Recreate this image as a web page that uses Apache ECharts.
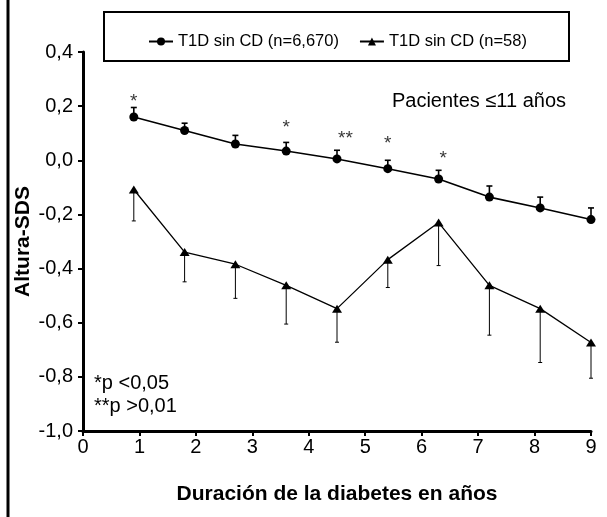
<!DOCTYPE html>
<html lang="es">
<head>
    <meta charset="UTF-8">
    <title>Altura-SDS</title>
    <script src="https://cdn.jsdelivr.net/npm/echarts@6/dist/echarts.min.js"></script>
    <style>
        html, body { margin: 0; padding: 0; background: #fff; }
        #chart { width: 607px; height: 517px; }
    </style>
</head>
<body>
<div id="chart"></div>
<script>
    // duración (años) - mismas posiciones para las dos series
    var years = [0.9, 1.8, 2.7, 3.6, 4.5, 5.4, 6.3, 7.2, 8.1, 9.0];

    // T1D sin CD (n=6,670)
    var grupoA = [0.160, 0.110, 0.060, 0.034, 0.005, -0.031, -0.069, -0.136, -0.176, -0.219];
    var grupoAsup = [0.195, 0.137, 0.092, 0.066, 0.037, 0.000, -0.037, -0.095, -0.136, -0.176];

    // T1D sin CD (n=58)
    var grupoB = [-0.108, -0.339, -0.384, -0.462, -0.548, -0.367, -0.230, -0.462, -0.548, -0.673];
    var grupoBinf = [-0.224, -0.449, -0.510, -0.605, -0.672, -0.470, -0.389, -0.646, -0.747, -0.805];

    // asteriscos de significación
    var sigX = [0.9, 3.6, 4.65, 5.4, 6.38];
    var sigY = [0.218, 0.120, 0.079, 0.061, 0.006];
    var sigTxt = ['*', '*', '**', '*', '*'];

    var nombres = ['T1D sin CD (n=6,670)', 'T1D sin CD (n=58)'];

    var fuente = "'Liberation Sans', Arial, sans-serif";

    function pares(xs, ys) {
        return xs.map(function (x, i) { return [x, ys[i]]; });
    }

    function barras(xs, ys, lim) {
        return xs.map(function (x, i) { return [x, ys[i], lim[i]]; });
    }

    function dibujaBarra(capW, lw) {
        return function (params, api) {
            var p0 = api.coord([api.value(0), api.value(1)]);
            var p1 = api.coord([api.value(0), api.value(2)]);
            return {
                type: 'group',
                children: [
                    {type: 'line', shape: {x1: p0[0], y1: p0[1], x2: p1[0], y2: p1[1]},
                        style: {stroke: '#000', lineWidth: lw}},
                    {type: 'line', shape: {x1: p1[0] - capW / 2, y1: p1[1], x2: p1[0] + capW / 2, y2: p1[1]},
                        style: {stroke: '#000', lineWidth: lw}}
                ]
            };
        };
    }

    var chart = echarts.init(document.getElementById('chart'));

    var option = {
        backgroundColor: '#fff',
        animation: false,
        textStyle: {fontFamily: fuente},
        grid: {left: 83, right: 16, top: 52, bottom: 86},
        legend: {
            top: 28,
            left: 143,
            itemWidth: 24,
            itemHeight: 10,
            itemGap: 20,
            textStyle: {fontFamily: fuente, fontSize: 16.5, color: '#000'},
            data: nombres
        },
        xAxis: {
            type: 'value',
            min: 0,
            max: 9,
            interval: 1,
            name: 'Duración de la diabetes en años',
            nameLocation: 'middle',
            nameGap: 53,
            nameTextStyle: {fontFamily: fuente, fontSize: 21, fontWeight: 'bold', color: '#000'},
            axisLine: {onZero: false, lineStyle: {color: '#000', width: 3}},
            axisTick: {length: 5, lineStyle: {color: '#000', width: 2}},
            axisLabel: {fontFamily: fuente, fontSize: 20, color: '#000', margin: 6},
            splitLine: {show: false}
        },
        yAxis: {
            type: 'value',
            min: -1,
            max: 0.4,
            interval: 0.2,
            name: 'Altura-SDS',
            nameLocation: 'middle',
            nameGap: 49,
            nameMoveOverlap: false,
            nameTextStyle: {fontFamily: fuente, fontSize: 21, fontWeight: 'bold', color: '#000'},
            axisLine: {show: true, onZero: false, lineStyle: {color: '#000', width: 3}},
            axisTick: {show: true, length: 5, lineStyle: {color: '#000', width: 2}},
            axisLabel: {
                fontFamily: fuente, fontSize: 20, color: '#000', margin: 10,
                formatter: function (v) { return v.toFixed(1).replace('.', ','); }
            },
            splitLine: {show: false}
        },
        graphic: [
            {type: 'line', shape: {x1: 8, y1: 0, x2: 8, y2: 517}, style: {stroke: '#000', lineWidth: 3}},
            {type: 'rect', shape: {x: 104, y: 12, width: 465, height: 49},
                style: {fill: 'none', stroke: '#000', lineWidth: 2}, z: 0},
            {type: 'text', right: 41, top: 91,
                style: {text: 'Pacientes ≤11 años', font: '20px ' + fuente, fill: '#000'}},
            {type: 'text', left: 94, top: 373,
                style: {text: '*p <0,05', font: '20px ' + fuente, fill: '#000'}},
            {type: 'text', left: 94, top: 396,
                style: {text: '**p >0,01', font: '20px ' + fuente, fill: '#000'}}
        ],
        series: [
            {
                type: 'custom',
                renderItem: dibujaBarra(6, 1.6),
                data: barras(years, grupoA, grupoAsup),
                encode: {x: 0, y: [1, 2]},
                silent: true,
                z: 1
            },
            {
                type: 'custom',
                renderItem: dibujaBarra(4, 1),
                data: barras(years, grupoB, grupoBinf),
                encode: {x: 0, y: [1, 2]},
                silent: true,
                z: 1
            },
            {
                name: nombres[0],
                type: 'line',
                data: pares(years, grupoA),
                symbol: 'circle',
                symbolSize: 9,
                showAllSymbol: true,
                color: '#000',
                lineStyle: {color: '#000', width: 1.6},
                itemStyle: {color: '#000'},
                z: 3
            },
            {
                name: nombres[1],
                type: 'line',
                data: pares(years, grupoB),
                symbol: 'triangle',
                symbolSize: [10, 8],
                showAllSymbol: true,
                color: '#000',
                lineStyle: {color: '#000', width: 1.3},
                itemStyle: {color: '#000'},
                z: 3
            },
            {
                type: 'scatter',
                symbolSize: 0,
                silent: true,
                data: sigX.map(function (x, i) { return {value: [x, sigY[i]], txt: sigTxt[i]}; }),
                label: {
                    show: true,
                    position: 'inside',
                    fontFamily: fuente,
                    fontSize: 19,
                    color: '#000',
                    formatter: function (p) { return p.data.txt; }
                }
            }
        ]
    };

    chart.setOption(option);
</script>
</body>
</html>
